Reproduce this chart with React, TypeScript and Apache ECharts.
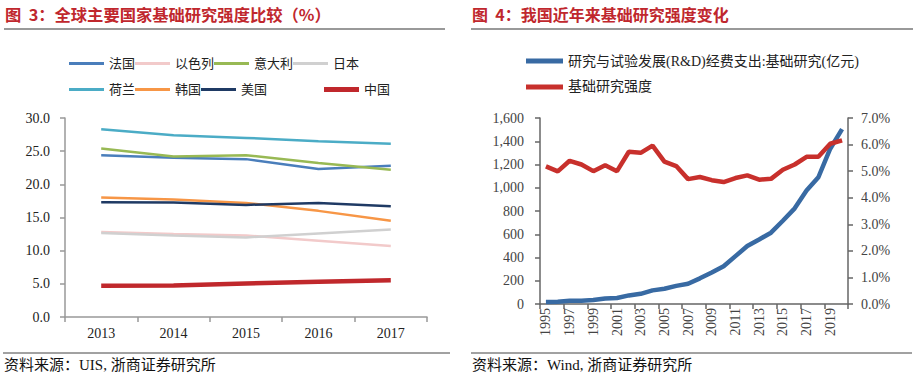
import React, { useEffect, useRef } from 'react';
import * as echarts from 'echarts';

// ---- Left chart data (图3) ----
const leftYears = ['2013', '2014', '2015', '2016', '2017'];
const franceData = [24.4, 24.0, 23.8, 22.3, 22.8];
const israelData = [12.8, 12.5, 12.3, 11.5, 10.7];
const italyData = [25.4, 24.2, 24.4, 23.2, 22.2];
const japanData = [12.65, 12.3, 12.0, 12.6, 13.2];
const netherlandsData = [28.3, 27.4, 27.0, 26.5, 26.1];
const koreaData = [18.0, 17.7, 17.2, 16.0, 14.5];
const usaData = [17.3, 17.25, 16.9, 17.2, 16.7];
const chinaData = [4.7, 4.75, 5.05, 5.3, 5.55];

// ---- Right chart data (图4) ----
const rightYears = ['1995', '1996', '1997', '1998', '1999', '2000', '2001', '2002', '2003', '2004', '2005', '2006', '2007', '2008', '2009', '2010', '2011', '2012', '2013', '2014', '2015', '2016', '2017', '2018', '2019', '2020'];
const basicResearchSpend = [18.1, 20.2, 27.4, 28.9, 33.9, 46.7, 52.2, 73.8, 87.7, 117.2, 131.2, 155.8, 174.5, 220.8, 270.3, 324.5, 411.8, 498.8, 555.0, 613.5, 716.1, 822.9, 975.5, 1090.4, 1335.6, 1504.0];
const basicResearchIntensity = [5.18, 4.99, 5.39, 5.25, 5.0, 5.22, 5.0, 5.73, 5.69, 5.96, 5.36, 5.19, 4.7, 4.78, 4.66, 4.59, 4.74, 4.84, 4.68, 4.71, 5.05, 5.25, 5.54, 5.54, 6.03, 6.16];

const SERIF = '"Liberation Serif", "Noto Sans CJK SC", serif';
const CJK = '"Noto Sans CJK SC", sans-serif';
const TITLE_RED = '#c0272d';

function lineSeries(name: string, data: number[], color: string, width: number, xi = 0, yi = 0) {
  return {
    name,
    type: 'line',
    data,
    xAxisIndex: xi,
    yAxisIndex: yi,
    symbol: 'none',
    smooth: false,
    lineStyle: { color, width },
    itemStyle: { color },
  };
}

export default function App() {
  const ref = useRef<HTMLDivElement>(null);
  useEffect(() => {
    document.body.style.margin = '0';
    const chart = echarts.init(ref.current!, null, { renderer: 'svg' });
    const legendText = { fontFamily: SERIF, fontSize: 13, color: '#222', width: 45 };
    const option: any = {
      animation: false,
      backgroundColor: '#fff',
      grid: [
        { left: 65, top: 118, width: 362, height: 199 },
        { left: 540, top: 118, width: 308, height: 186 },
      ],
      legend: [
        {
          left: 64, top: 52, itemWidth: 35, itemHeight: 3, itemGap: 0, icon: 'rect',
          textStyle: legendText,
          data: ['法国', '以色列', '意大利', '日本'],
        },
        {
          left: 64, top: 78, itemWidth: 35, itemHeight: 3, itemGap: 0, icon: 'rect',
          textStyle: legendText,
          data: ['荷兰', '韩国', '美国'],
        },
        {
          left: 319, top: 78, itemWidth: 35, itemHeight: 5, itemGap: 0, icon: 'rect',
          textStyle: legendText,
          data: ['中国'],
        },
        {
          left: 521, top: 49, orient: 'vertical', itemWidth: 37, itemHeight: 5, itemGap: 12, icon: 'rect',
          textStyle: { fontFamily: SERIF, fontSize: 14, color: '#222' },
          data: ['研究与试验发展(R&D)经费支出:基础研究(亿元)', '基础研究强度'],
        },
      ],
      xAxis: [
        {
          gridIndex: 0, type: 'category', data: leftYears, boundaryGap: true,
          axisLine: { lineStyle: { color: '#999', width: 1.5 } },
          axisTick: { show: true, length: 5, lineStyle: { color: '#999', width: 1.5 } },
          axisLabel: { fontFamily: SERIF, fontSize: 14, color: '#222', margin: 9 },
        },
        {
          gridIndex: 1, type: 'category', data: rightYears, boundaryGap: true,
          axisLine: { lineStyle: { color: '#666', width: 1.5 } },
          axisTick: { show: true, interval: 1, length: 5, lineStyle: { color: '#666', width: 1.5 } },
          axisLabel: { interval: 1, rotate: 90, fontFamily: SERIF, fontSize: 14, color: '#444', margin: 4 },
        },
      ],
      yAxis: [
        {
          gridIndex: 0, type: 'value', min: 0, max: 30, interval: 5,
          axisLine: { show: true, lineStyle: { color: '#999', width: 1.5 } },
          axisTick: { show: true, length: 5, lineStyle: { color: '#999', width: 1.5 } },
          splitLine: { show: false },
          axisLabel: { fontFamily: SERIF, fontSize: 14, color: '#222', margin: 15, formatter: (v: number) => v.toFixed(1) },
        },
        {
          gridIndex: 1, type: 'value', position: 'left', min: 0, max: 1600, interval: 200,
          axisLine: { show: true, lineStyle: { color: '#666', width: 1.5 } },
          axisTick: { show: true, length: 5, lineStyle: { color: '#666', width: 1.5 } },
          splitLine: { show: false },
          axisLabel: {
            fontFamily: SERIF, fontSize: 14, color: '#444', margin: 16,
            formatter: (v: number) => v.toLocaleString('en-US'),
          },
        },
        {
          gridIndex: 1, type: 'value', position: 'right', min: 0, max: 7, interval: 1,
          axisLine: { show: true, lineStyle: { color: '#666', width: 1.5 } },
          axisTick: { show: true, length: 5, lineStyle: { color: '#666', width: 1.5 } },
          splitLine: { show: false },
          axisLabel: { fontFamily: SERIF, fontSize: 14, color: '#444', margin: 13, formatter: (v: number) => v.toFixed(1) + '%' },
        },
      ],
      series: [
        lineSeries('法国', franceData, '#4a7ebb', 2.5),
        lineSeries('以色列', israelData, '#f2caca', 2.5),
        lineSeries('意大利', italyData, '#98b954', 2.5),
        lineSeries('日本', japanData, '#d0d0d0', 2.5),
        lineSeries('荷兰', netherlandsData, '#4bacc6', 2.5),
        lineSeries('韩国', koreaData, '#f79646', 2.5),
        lineSeries('美国', usaData, '#1f3a64', 2.5),
        lineSeries('中国', chinaData, '#c0282c', 4.5),
        lineSeries('研究与试验发展(R&D)经费支出:基础研究(亿元)', basicResearchSpend, '#386aa3', 4.5, 1, 1),
        lineSeries('基础研究强度', basicResearchIntensity, '#c8302c', 4.5, 1, 2),
      ],
      graphic: [
        {
          type: 'text', left: 5, top: 6,
          style: { text: '图  3：全球主要国家基础研究强度比较（%）', fill: TITLE_RED, font: 'bold 16.3px ' + CJK },
        },
        { type: 'line', shape: { x1: 4, y1: 29, x2: 445, y2: 29 }, style: { stroke: '#999', lineWidth: 2 } },
        {
          type: 'text', left: 472, top: 6,
          style: { text: '图  4：我国近年来基础研究强度变化', fill: TITLE_RED, font: 'bold 16px ' + CJK },
        },
        { type: 'line', shape: { x1: 471, y1: 29, x2: 913, y2: 29 }, style: { stroke: '#999', lineWidth: 2 } },
        { type: 'line', shape: { x1: 3, y1: 353, x2: 450, y2: 353 }, style: { stroke: '#444', lineWidth: 1 } },
        { type: 'line', shape: { x1: 471, y1: 353, x2: 912, y2: 353 }, style: { stroke: '#444', lineWidth: 1 } },
        {
          type: 'text', left: 4, top: 357,
          style: { text: '资料来源：UIS, 浙商证券研究所', fill: '#111', font: '15px ' + SERIF },
        },
        {
          type: 'text', left: 472, top: 357,
          style: { text: '资料来源：Wind, 浙商证券研究所', fill: '#111', font: '15px ' + SERIF },
        },
      ],
    };
    chart.setOption(option);
    return () => chart.dispose();
  }, []);
  return <div ref={ref} style={{ width: 913, height: 378 }} />;
}
